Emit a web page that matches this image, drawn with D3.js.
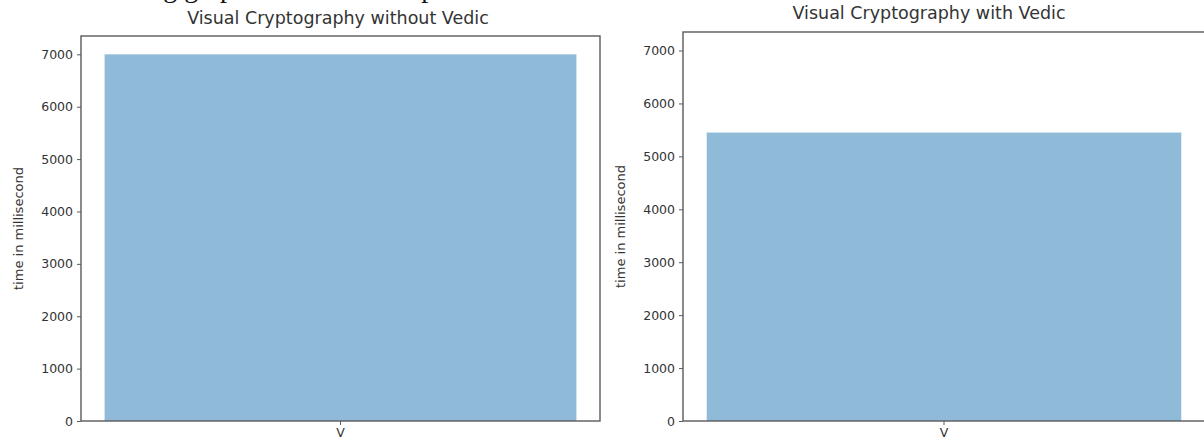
<!DOCTYPE html>
<html><head><meta charset="utf-8">
<script src="https://cdn.jsdelivr.net/npm/d3@7"></script>
<style>
html,body{margin:0;padding:0;background:#fff;overflow:hidden;}
svg{display:block;}
text{font-family:"DejaVu Sans",sans-serif;}
</style></head>
<body><svg id="c" width="1204" height="439"></svg>
<script>
const categories = ["V"];
const valuesWithout = [7000];
const valuesWith = [5450];
const yTicks = [0, 1000, 2000, 3000, 4000, 5000, 6000, 7000];
const yMax = 7350;
const titles = ["Visual Cryptography without Vedic", "Visual Cryptography with Vedic"];
const yLabel = "time in millisecond";
const pageText = "Following graph shows the comparison of time";

const svg = d3.select("#c");
const ink = "#333";
const barColor = "#8fbbd9";

// cut-off document text at the very top (only descenders visible, as in the reference)
svg.append("text").attr("x", 62).attr("y", -3)
  .style("font-family", "'Liberation Serif','DejaVu Serif',serif")
  .style("font-size", "28px").attr("fill", "#111").text(pageText);

const panels = [
  {x0: 81, x1: 600, top: 36, bottom: 421, vals: valuesWithout, title: titles[0], titleX: 338, titleY: 24, labelX: 18},
  {x0: 683, x1: 1205, top: 32, bottom: 421, vals: valuesWith, title: titles[1], titleX: 929, titleY: 19, labelX: 620}
];

panels.forEach(p => {
  const x = d3.scaleBand().domain(categories).range([p.x0, p.x1]).paddingInner(0).paddingOuter(0.05);
  const y = d3.scaleLinear().domain([0, yMax]).range([p.bottom, p.top]);
  const g = svg.append("g");
  g.selectAll("rect.bar").data(categories).enter().append("rect")
    .attr("class", "bar")
    .attr("x", d => x(d)).attr("width", x.bandwidth())
    .attr("y", (d, i) => y(p.vals[i])).attr("height", (d, i) => y(0) - y(p.vals[i]))
    .attr("fill", barColor);
  g.append("rect").attr("x", p.x0).attr("y", p.top).attr("width", p.x1 - p.x0).attr("height", p.bottom - p.top)
    .attr("fill", "none").attr("stroke", "#5a5a5a").attr("stroke-width", 1.4);
  const ya = g.append("g").attr("transform", `translate(${p.x0},0)`)
    .call(d3.axisLeft(y).tickValues(yTicks).tickSize(4).tickPadding(4).tickFormat(d3.format("d")));
  const xa = g.append("g").attr("transform", `translate(0,${p.bottom})`)
    .call(d3.axisBottom(x).tickSize(4).tickPadding(3));
  [ya, xa].forEach(a => {
    a.select(".domain").remove();
    a.selectAll("line").attr("stroke", "#5a5a5a");
    a.selectAll("text").attr("fill", ink).style("font-size", "12.5px").style("font-family", "'DejaVu Sans',sans-serif");
  });
  g.append("text").attr("x", p.titleX).attr("y", p.titleY).attr("text-anchor", "middle")
    .attr("fill", ink).style("font-size", "17.5px").text(p.title);
  g.append("text").attr("transform", `translate(${p.labelX},${(p.top + p.bottom) / 2}) rotate(-90)`)
    .attr("text-anchor", "middle").attr("dy", "0.35em").attr("fill", ink).style("font-size", "13px").text(yLabel);
});
</script></body></html>
